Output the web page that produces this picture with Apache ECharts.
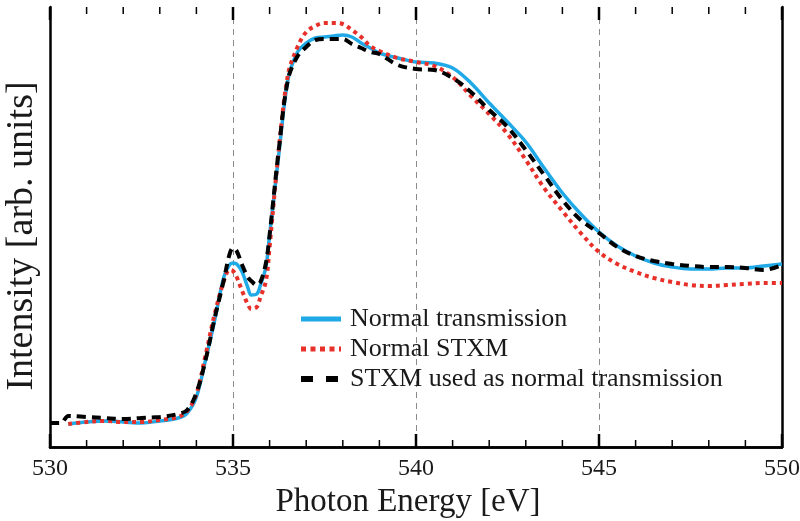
<!DOCTYPE html>
<html>
<head>
<meta charset="utf-8">
<script src="https://cdn.jsdelivr.net/npm/echarts@6/dist/echarts.min.js"></script>
<style>
  html, body { margin: 0; padding: 0; background: #fff; }
  #chart { width: 800px; height: 521px; }
</style>
</head>
<body>
<div id="chart"></div>
<script>
// O K-edge spectra: photon energy grid (eV) shared by all three curves
const energy = [530.0, 530.3, 530.5, 531.0, 531.5, 532.0, 532.5, 533.0, 533.5, 533.75,
  534.0, 534.25, 534.5, 534.75, 534.9, 535.0, 535.1, 535.25, 535.4, 535.5,
  535.65, 535.75, 535.9, 536.0, 536.25, 536.5, 536.75, 537.0, 537.25, 537.5,
  537.75, 538.0, 538.25, 538.5, 538.75, 539.0, 539.5, 540.0, 540.5, 541.0,
  541.5, 542.0, 542.5, 543.0, 543.5, 544.0, 544.5, 545.0, 545.5, 546.0,
  546.5, 547.0, 547.5, 548.0, 548.5, 549.0, 549.5, 550.0];

// Intensity in arbitrary units
const normalTransmission = [null, null, 0.23, 0.25, 0.26, 0.25, 0.24, 0.26, 0.29, 0.34,
  0.50, 0.87, 1.27, 1.70, 1.82, 1.84, 1.83, 1.75, 1.60, 1.52,
  1.53, 1.62, 1.80, 2.12, 2.92, 3.67, 3.94, 4.04, 4.09, 4.10,
  4.11, 4.12, 4.10, 4.04, 3.99, 3.94, 3.89, 3.85, 3.84, 3.79,
  3.64, 3.44, 3.25, 3.05, 2.79, 2.54, 2.33, 2.15, 2.01, 1.91,
  1.84, 1.80, 1.78, 1.78, 1.79, 1.79, 1.81, 1.83];

const normalSTXM = [null, null, 0.23, 0.25, 0.26, 0.25, 0.25, 0.27, 0.30, 0.36,
  0.53, 0.92, 1.33, 1.66, 1.77, 1.76, 1.70, 1.56, 1.43, 1.38,
  1.40, 1.50, 1.66, 2.00, 2.97, 3.72, 3.99, 4.15, 4.21, 4.24,
  4.24, 4.23, 4.17, 4.10, 4.01, 3.96, 3.89, 3.85, 3.81, 3.70,
  3.51, 3.33, 3.13, 2.87, 2.59, 2.36, 2.14, 1.95, 1.83, 1.75,
  1.69, 1.65, 1.62, 1.61, 1.62, 1.63, 1.64, 1.64];

const stxmAsTransmission = [0.24, 0.24, 0.31, 0.30, 0.29, 0.28, 0.29, 0.30, 0.33, 0.37,
  0.54, 0.87, 1.29, 1.67, 1.92, 1.99, 1.96, 1.82, 1.70, 1.66,
  1.62, 1.65, 1.84, 2.12, 2.97, 3.67, 3.90, 4.00, 4.07, 4.08,
  4.08, 4.08, 4.03, 3.99, 3.95, 3.93, 3.82, 3.78, 3.77, 3.69,
  3.55, 3.37, 3.20, 2.97, 2.72, 2.47, 2.27, 2.14, 2.00, 1.91,
  1.86, 1.83, 1.81, 1.80, 1.80, 1.79, 1.77, 1.82];

const seriesNames = ['Normal transmission', 'Normal STXM', 'STXM used as normal transmission'];
const xTicks = { min: 530, max: 550, step: 5 };
const yRange = { min: 0, max: 4.4 };
// tick marks along the top and bottom frame (every eV; long ones every 5 eV)
const tickEnergies = [530, 531, 532, 533, 534, 535, 536, 537, 538, 539, 540,
  541, 542, 543, 544, 545, 546, 547, 548, 549, 550];

const pair = vals => energy.map((e, i) => [e, vals[i]]);
const FONT = '"Liberation Serif", "DejaVu Serif", serif';

const frameLine = () => ({ show: true, lineStyle: { color: '#000', width: 2.5 } });

// Inward-pointing ticks on both the bottom and the top edge of the plot
function renderFrameTick(params, api) {
  const e = api.value(0);
  const major = e % xTicks.step === 0;
  const len = major ? 13 : 7;
  const w = major ? 2.5 : 1.5;
  // copy the numbers right away: the returned point array may be reused
  const bottomPt = api.coord([e, yRange.min]);
  const bx = bottomPt[0], by = bottomPt[1];
  const topPt = api.coord([e, yRange.max]);
  const tx = topPt[0], ty = topPt[1];
  return {
    type: 'group',
    children: [
      { type: 'line', shape: { x1: bx, y1: by, x2: bx, y2: by - len },
        style: { stroke: '#000', lineWidth: w } },
      { type: 'line', shape: { x1: tx, y1: ty, x2: tx, y2: ty + len },
        style: { stroke: '#000', lineWidth: w } }
    ]
  };
}

const chart = echarts.init(document.getElementById('chart'), null, { renderer: 'canvas' });
chart.setOption({
  animation: false,
  backgroundColor: '#fff',
  grid: { left: 50, right: 18, top: 7, bottom: 74, containLabel: false, outerBoundsMode: 'none' },
  xAxis: [
    {
      type: 'value', position: 'bottom',
      min: xTicks.min, max: xTicks.max, interval: xTicks.step,
      axisLine: frameLine(), axisTick: { show: false }, minorTick: { show: false },
      axisLabel: { show: true, margin: 10, fontFamily: FONT, fontSize: 24, color: '#1a1a1a' },
      splitLine: { show: true, lineStyle: { color: '#8a8a8a', width: 1, type: [6, 5] } },
      name: 'Photon Energy [eV]', nameLocation: 'middle', nameGap: 34,
      nameTextStyle: { fontFamily: FONT, fontSize: 33, color: '#1a1a1a', padding: [0, 16, 0, 0] }
    },
    {
      type: 'value', position: 'top',
      min: xTicks.min, max: xTicks.max, interval: xTicks.step,
      axisLine: frameLine(), axisTick: { show: false }, minorTick: { show: false },
      axisLabel: { show: false },
      splitLine: { show: false }
    }
  ],
  yAxis: [
    {
      type: 'value', position: 'left', min: yRange.min, max: yRange.max,
      axisLine: frameLine(), axisTick: { show: false }, axisLabel: { show: false },
      splitLine: { show: false },
      name: 'Intensity [arb. units]', nameLocation: 'middle', nameGap: 9,
      nameTextStyle: { fontFamily: FONT, fontSize: 38, color: '#1a1a1a', padding: [0, 18, 0, 0] }
    },
    {
      type: 'value', position: 'right', min: yRange.min, max: yRange.max,
      axisLine: frameLine(), axisTick: { show: false }, axisLabel: { show: false },
      splitLine: { show: false }
    }
  ],
  legend: {
    orient: 'vertical', left: 293, top: 301,
    itemWidth: 40, itemHeight: 14, itemGap: 4,
    data: [
      { name: seriesNames[0], lineStyle: { width: 5 } },
      { name: seriesNames[1], lineStyle: { width: 5, type: [5, 4.5] } },
      { name: seriesNames[2], lineStyle: { width: 6, type: [12, 13] } }
    ],
    itemStyle: { opacity: 0 },
    textStyle: { fontFamily: FONT, fontSize: 26, color: '#1a1a1a', padding: [0, 0, 0, 4] }
  },
  series: [
    {
      name: seriesNames[0], type: 'line', data: pair(normalTransmission),
      showSymbol: false, symbol: 'none', smooth: 0.35,
      lineStyle: { color: '#1fa9e6', width: 3.5 }, itemStyle: { color: '#1fa9e6' }
    },
    {
      name: seriesNames[1], type: 'line', data: pair(normalSTXM),
      showSymbol: false, symbol: 'none', smooth: 0.35,
      lineStyle: { color: '#e8302a', width: 4, type: [4, 4], cap: 'butt' }, itemStyle: { color: '#e8302a' }
    },
    {
      name: seriesNames[2], type: 'line', data: pair(stxmAsTransmission),
      showSymbol: false, symbol: 'none', smooth: 0.35,
      lineStyle: { color: '#000', width: 4, type: [9, 6], cap: 'butt' }, itemStyle: { color: '#000' }
    },
    {
      name: 'frameTicks', type: 'custom', silent: true, z: 6, clip: false,
      dimensions: ['energy', 'level'], encode: { x: 0, y: 1 },
      data: tickEnergies.map(e => [e, yRange.min]),
      renderItem: renderFrameTick
    }
  ]
});
</script>
</body>
</html>
